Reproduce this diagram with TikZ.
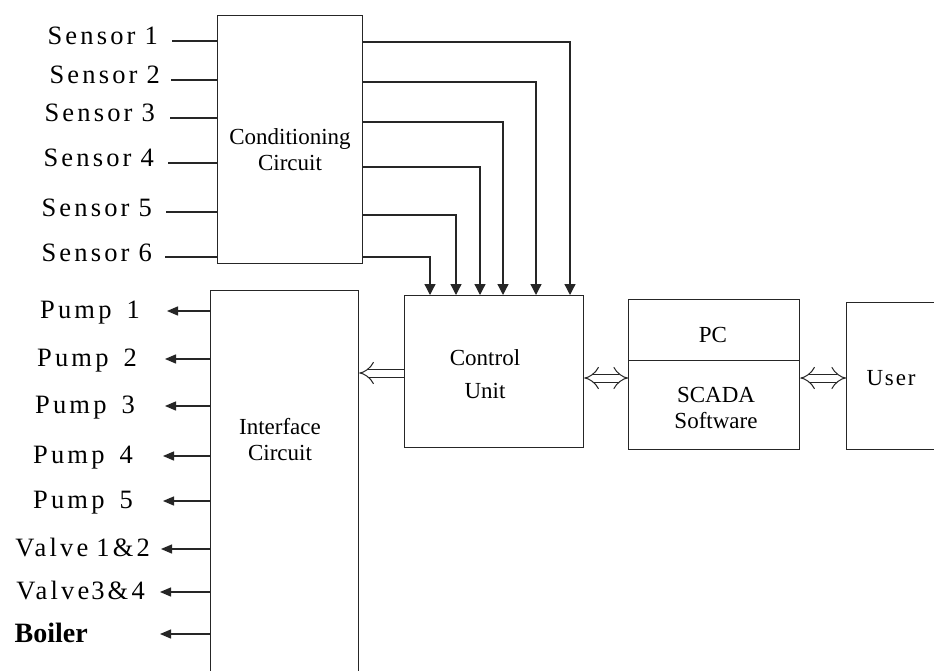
\documentclass[tikz,border=0pt]{standalone}
\usepackage{fontspec}
\setmainfont{Liberation Serif}
\newfontfamily\spfont[LetterSpace=12]{Liberation Serif}
\newfontfamily\wdfont[LetterSpace=8]{Liberation Serif}
\usetikzlibrary{arrows.meta}
\begin{document}
\begin{tikzpicture}[x=1pt,y=-1pt,
  box/.style={draw=black!85, line width=1.3pt, inner sep=0pt, anchor=north west},
  wire/.style={draw=black!85, line width=1.3pt},
  outlbl/.style={inner sep=0pt, font=\spfont\fontsize{26.5}{28}\selectfont},
  inlbl/.style={inner sep=0pt, align=center, font=\fontsize{23}{26}\selectfont},
  downarr/.style={wire, -{Triangle[length=11pt,width=11pt]}},
  leftarr/.style={wire, -{Triangle[length=11pt,width=9pt]}},
  dbl/.style={draw=black!85, double, double distance=7pt, line width=1pt},
  hollow/.tip={Implies[length=8pt,width=19pt]}
]
\useasboundingbox (0,0) rectangle (934,671);
\fill[white] (0,0) rectangle (934,671);

% boxes
\node[box, minimum width=145pt, minimum height=248pt] (cc) at (217,15) {};
\node[box, minimum width=148pt, minimum height=390pt] (ic) at (210,290) {};
\node[box, minimum width=179pt, minimum height=152pt] (cu) at (404,295) {};
\node[box, minimum width=171pt, minimum height=61pt] (pct) at (628,299) {};
\node[box, minimum width=171pt, minimum height=89pt] (pcb) at (628,360) {};
\node[box, minimum width=150pt, minimum height=147pt] (us) at (846,302) {};

% box texts
\node[inlbl] (cct) at (290,150) {Conditioning\\Circuit};
\node[inlbl] (ict) at (280,440) {Interface\\Circuit};
\node[inlbl, font=\fontsize{23}{33}\selectfont] (cut) at (485,374) {Control\\Unit};
\node[inlbl] (pctt) at (713,335) {PC};
\node[inlbl] (pcbt) at (716,408) {SCADA\\Software};
\node[inlbl, font=\wdfont\fontsize{23}{26}\selectfont] (ust) at (891,378) {User};

% sensors
\node[outlbl, anchor=base east] (s1) at (158,45) {Sensor\hspace{9pt}1};
\node[outlbl, anchor=base east] (s2) at (160,84) {Sensor\hspace{9pt}2};
\node[outlbl, anchor=base east] (s3) at (155,122) {Sensor\hspace{9pt}3};
\node[outlbl, anchor=base east] (s4) at (154,167) {Sensor\hspace{9pt}4};
\node[outlbl, anchor=base east] (s5) at (152,216) {Sensor\hspace{9pt}5};
\node[outlbl, anchor=base east] (s6) at (152,261) {Sensor\hspace{9pt}6};
\coordinate (l1) at (172,41);
\coordinate (l2) at (171,80);
\coordinate (l3) at (170,118);
\coordinate (l4) at (168,163);
\coordinate (l5) at (166,212);
\coordinate (l6) at (165,257);
\foreach \l in {l1,l2,l3,l4,l5,l6}
  \draw[wire] (\l) -- (\l -| cc.west);

% conditioning outputs to control unit
\coordinate (o1) at (570,42);
\coordinate (o2) at (536,82);
\coordinate (o3) at (503,122);
\coordinate (o4) at (480,167);
\coordinate (o5) at (456,215);
\coordinate (o6) at (430,257);
\foreach \o in {o1,o2,o3,o4,o5,o6}
  \draw[downarr] (\o -| cc.east) -- (\o) -- (\o |- cu.north);

% pumps etc.
\node[outlbl, anchor=base east] (p1) at (140,318) {Pump\hspace{15pt}1};
\node[outlbl, anchor=base east] (p2) at (137,366) {Pump\hspace{15pt}2};
\node[outlbl, anchor=base east] (p3) at (135,413) {Pump\hspace{15pt}3};
\node[outlbl, anchor=base east] (p4) at (133,463) {Pump\hspace{15pt}4};
\node[outlbl, anchor=base east] (p5) at (133,508) {Pump\hspace{15pt}5};
\node[outlbl, anchor=base east] (v1) at (150,556) {Valve\hspace{8pt}1\&2};
\node[outlbl, anchor=base east] (v2) at (145,599) {Valve\hspace{2pt}3\&4};
\node[inner sep=0pt, anchor=base east, font=\bfseries\fontsize{28}{30}\selectfont] (bo) at (88,642) {Boiler};

\coordinate (t1) at (167,311);
\coordinate (t2) at (165,359);
\coordinate (t3) at (165,406);
\coordinate (t4) at (163,456);
\coordinate (t5) at (163,501);
\coordinate (t6) at (161,549);
\coordinate (t7) at (160,592);
\coordinate (t8) at (160,634);
\foreach \t in {t1,t2,t3,t4,t5,t6,t7,t8}
  \draw[leftarr] (\t -| ic.west) -- (\t);

% hollow arrows
\coordinate (ya) at (0,373);
\coordinate (yb) at (0,378);
\draw[dbl, -hollow] (ya -| cu.west) -- (ya -| ic.east);
\draw[dbl, hollow-hollow] (yb -| cu.east) -- (yb -| pcb.west);
\draw[dbl, hollow-hollow] (yb -| pcb.east) -- (yb -| us.west);
\end{tikzpicture}
\end{document}
